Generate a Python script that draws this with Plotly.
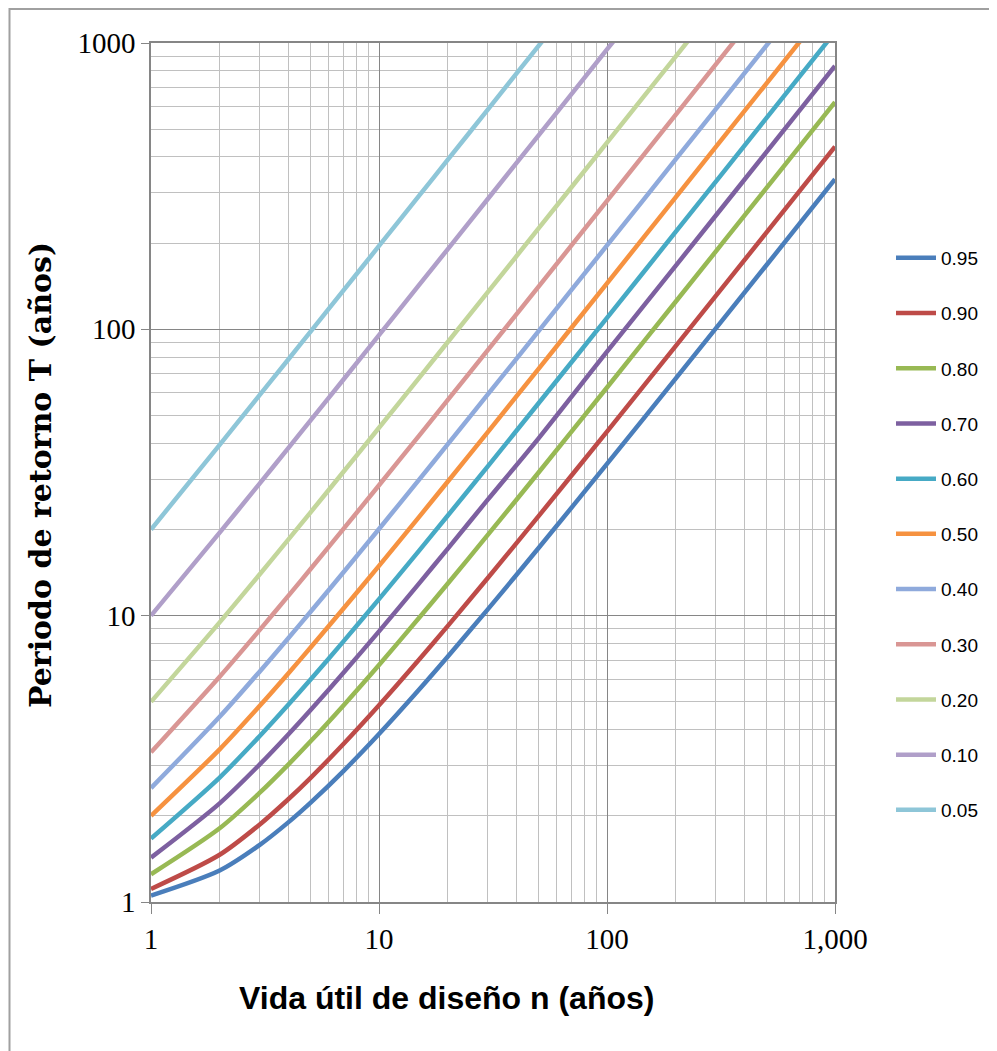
import plotly.graph_objects as go

# Design life n (years)
n_years = [1, 2, 3, 4, 5, 7, 10, 15, 20, 30, 50, 100, 200, 500, 1000]

# Return period T (years) read for each risk R
risk_labels = ["0.95", "0.90", "0.80", "0.70", "0.60", "0.50", "0.40", "0.30", "0.20", "0.10", "0.05"]
T_095 = [1.053, 1.288, 1.583, 1.897, 2.219, 2.872, 3.862, 5.524, 7.19, 10.52, 17.19, 33.88, 67.26, 167.4, 334.3]
T_090 = [1.111, 1.462, 1.866, 2.285, 2.710, 3.568, 4.862, 7.028, 9.195, 13.54, 22.22, 43.93, 87.36, 217.6, 434.8]
T_080 = [1.250, 1.809, 2.408, 3.019, 3.633, 4.869, 6.727, 9.830, 12.93, 19.14, 31.57, 62.63, 124.8, 311.2, 621.8]
T_070 = [1.429, 2.211, 3.025, 3.847, 4.673, 6.328, 8.815, 12.97, 17.12, 25.42, 41.53, 83.56, 166.6, 415.8, 831.1]
T_060 = [1.667, 2.721, 3.800, 4.885, 5.972, 8.150, 11.42, 16.88, 22.33, 33.24, 55.07, 109.6, 218.8, 546.2, 1092]
T_050 = [2.000, 3.414, 4.847, 6.285, 7.725, 10.61, 14.93, 22.14, 29.35, 43.78, 72.63, 144.8, 289.0, 721.8, 1443]
T_040 = [2.500, 4.436, 6.387, 8.341, 10.30, 14.21, 20.08, 29.87, 39.65, 59.23, 98.38, 196.3, 392.0, 979.3, 1958]
T_030 = [3.333, 6.122, 8.921, 11.72, 14.52, 20.13, 28.54, 42.56, 56.57, 84.61, 140.7, 280.9, 561.2, 1402, 2804]
T_020 = [5.000, 9.472, 13.95, 18.43, 22.91, 31.87, 45.31, 67.72, 90.13, 134.9, 224.6, 448.6, 896.8, 2241, 4482]
T_010 = [10.00, 19.49, 28.98, 38.47, 47.96, 66.94, 95.41, 142.9, 190.3, 285.2, 475.1, 949.6, 1899, 4746, 9491]
T_005 = [20.00, 39.50, 59.00, 78.48, 98.00, 137.0, 195.5, 292.9, 390.4, 585.4, 975.3, 1950, 3899, 9748, 19496]
series_T = [T_095, T_090, T_080, T_070, T_060, T_050, T_040, T_030, T_020, T_010, T_005]

colors = ["#4A7EBB", "#BE4B48", "#98B954", "#7D60A0", "#46AAC5", "#F69240",
          "#8FAADC", "#D99694", "#C3D69B", "#B09FC9", "#8EC6D8"]

x_tickvals = [1, 10, 100, 1000]
x_ticktext = ["1", "10", "100", "1,000"]
y_tickvals = [1, 10, 100, 1000]
y_ticktext = ["1", "10", "100", "1000"]

fig = go.Figure()
for i, (lab, T) in enumerate(zip(risk_labels, series_T)):
    fig.add_trace(go.Scatter(
        x=n_years, y=T, mode="lines", name=lab, legendgroup=lab,
        line=dict(color=colors[i], width=4.5, shape="spline", smoothing=0.8),
    ))

# page body has an 8px margin, so the figure is placed 8px in
OFF = 8
W, H = 997 - OFF, 1051 - OFF
L, Tm = 151 - OFF, 43 - OFF
pw, ph = 684, 859
R, B = W - L - pw, H - Tm - ph


def px(xp):
    return (xp - OFF - L) / pw


def py(yp):
    return (Tm + ph - (yp - OFF)) / ph


axis_common = dict(
    type="log", showline=True, mirror=True, linecolor="#868686", linewidth=1.5,
    showgrid=True, gridcolor="#868686", gridwidth=1,
    ticks="outside", tickcolor="#868686", ticklen=8, tickwidth=1,
    tickfont=dict(family="Liberation Serif", size=29, color="#000000"),
    minor=dict(showgrid=True, gridcolor="#C0C0C0", gridwidth=1, dtick="D1", ticks=""),
    zeroline=False,
)

fig.update_layout(
    width=W, height=H,
    margin=dict(l=L, r=R, t=Tm, b=B),
    paper_bgcolor="white", plot_bgcolor="white",
    xaxis=dict(axis_common, range=[0, 3], tickvals=x_tickvals, ticktext=x_ticktext, ticklen=10),
    yaxis=dict(axis_common, range=[0, 3], tickvals=y_tickvals, ticktext=y_ticktext),
    showlegend=True,
    legend=dict(
        x=px(891), xanchor="left", y=py(239), yanchor="top",
        font=dict(family="Liberation Sans", size=19, color="#000000"),
        tracegroupgap=27.5, bgcolor="rgba(0,0,0,0)", itemwidth=40,
    ),
)

fig.add_annotation(
    text="<b>Vida útil de diseño n (años)</b>", xref="paper", yref="paper",
    x=px(446), y=py(998), xanchor="center", yanchor="middle",
    showarrow=False, font=dict(family="Liberation Sans", size=32, color="#000000"),
)
fig.add_annotation(
    text="<b>Periodo de retorno T (años)</b>", xref="paper", yref="paper",
    x=px(40), y=py(475), xanchor="center", yanchor="middle", textangle=-90,
    showarrow=False, font=dict(family="DejaVu Serif", size=30, color="#000000"),
)

# chart area border (left and top edges visible in the frame)
fig.add_shape(type="rect", xref="paper", yref="paper",
              x0=px(9.5), x1=px(1010), y0=py(1060), y1=py(9),
              line=dict(color="#A0A0A0", width=2), fillcolor="rgba(0,0,0,0)", layer="below")

fig.write_html("out.html")
